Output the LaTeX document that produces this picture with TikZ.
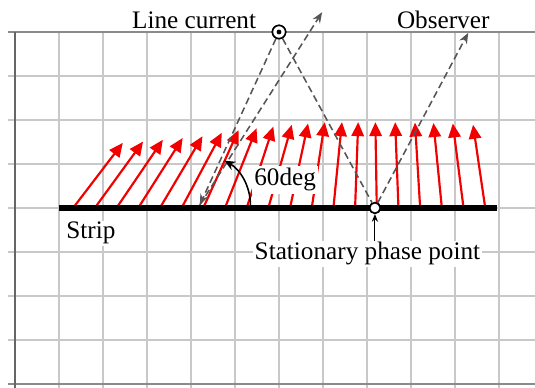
\documentclass[tikz,border=0pt]{standalone}
\usepackage{fontspec}
\setmainfont{Liberation Serif}
\usetikzlibrary{arrows.meta,positioning}
\definecolor{gridgray}{HTML}{C8C8C8}
\definecolor{axisgray}{HTML}{8A8A8A}
\definecolor{raygray}{HTML}{555555}
\definecolor{fieldred}{HTML}{F20000}

\tikzset{
  gridln/.style={gridgray,line width=1.4pt},
  axisln/.style={axisgray,line width=1.1pt},
  field/.style={fieldred,line width=1.4pt,-{Triangle[length=9pt,width=8pt]}},
  ray/.style={raygray,line width=1pt,dash pattern=on 4.5pt off 2.5pt},
  raytip/.style={ray,-{Stealth[length=7pt,width=5.5pt]}},
  lbl/.style={font=\fontsize{16.3}{19.5}\selectfont,fill=white,inner sep=1pt},
  probe/.style={circle,draw,fill=white,line width=1pt,inner sep=0pt},
}

\begin{document}
\begin{tikzpicture}
\useasboundingbox (-0.341,-4.09) rectangle (11.818,4.727);

% ===== Grid =====
\foreach \y in {-3,...,3}
  \draw[gridln] (-0.16,\y) -- (11.82,\y);
\foreach \x in {1,...,11}
  \draw[gridln] (\x,-4.09) -- (\x,4);
\draw[axisln] (-0.16,4) -- (11.82,4);
\draw[axisln] (-0.16,-4) -- (11.82,-4);
\draw[axisln,black!60] (0,-4.09) -- (0,4);

% ===== Field directions along the strip =====
\draw[field] (1.320,0) -- (2.45,1.48);
\draw[field] (1.813,0) -- (2.91,1.51);
\draw[field] (2.306,0) -- (3.36,1.55);
\draw[field] (2.799,0) -- (3.81,1.59);
\draw[field] (3.292,0) -- (4.26,1.63);
\draw[field] (3.785,0) -- (4.70,1.71);
\draw[field] (4.278,0) -- (5.08,1.77);
\draw[field] (4.771,0) -- (5.49,1.81);
\draw[field] (5.264,0) -- (5.87,1.85);
\draw[field] (5.757,0) -- (6.29,1.89);
\draw[field] (6.250,0) -- (6.66,1.92);
\draw[field] (6.743,0) -- (7.04,1.95);
\draw[field] (7.236,0) -- (7.43,1.95);
\draw[field] (7.729,0) -- (7.80,1.95);
\draw[field] (8.222,0) -- (8.19,1.95);
\draw[field] (8.715,0) -- (8.64,1.95);
\draw[field] (9.208,0) -- (9.09,1.94);
\draw[field] (9.701,0) -- (9.51,1.93);
\draw[field] (10.194,0) -- (9.95,1.92);
\draw[field] (10.687,0) -- (10.41,1.89);

% Strip
\draw[line width=4pt] (1,0) -- (10.95,0);

% ===== Source, points and rays =====
\node[probe,minimum size=0.3cm] (linecur) at (6,4) {};
\node[probe,minimum size=0.24cm] (spp) at (8.18,0) {};
\coordinate (hit) at (4.2,0.07);
\coordinate (far) at (6.98,4.45);
\coordinate (obs) at (10.3,3.98);

\draw[ray] (linecur) -- (spp);
\draw[raytip] (spp) -- (obs);
\draw[raytip] (linecur) -- (hit);
\draw[raytip] (hit) -- (far);

% Angle
\draw[line width=1pt,-{Stealth[length=7pt,width=6pt]}]
  ([shift={(0:1.15)}]hit) arc[start angle=0,end angle=61,radius=1.15];

% ===== Labels =====
\node[lbl,anchor=base east] (curlabel) at (5.52,4.09) {Line current};
\node[lbl,anchor=base west] (obslabel) at (8.64,4.09) {Observer};
\node[lbl,anchor=base west] (striplabel) at (1.125,-0.70) {Strip};
\node[lbl,anchor=base] (spplabel) at (8.01,-1.18) {Stationary phase point};
\node[lbl,anchor=base,inner sep=1.5pt] (anglabel) at (6.14,0.5) {60deg};
\draw[line width=0.7pt,-{Stealth[length=5pt,width=4pt]}] (spplabel.north -| spp) -- (spp.south);

% redraw the symbols on top
\node[probe,minimum size=0.3cm] at (linecur) {};
\fill (linecur.center) circle (0.055);
\node[probe,minimum size=0.24cm] at (spp) {};

\end{tikzpicture}
\end{document}
